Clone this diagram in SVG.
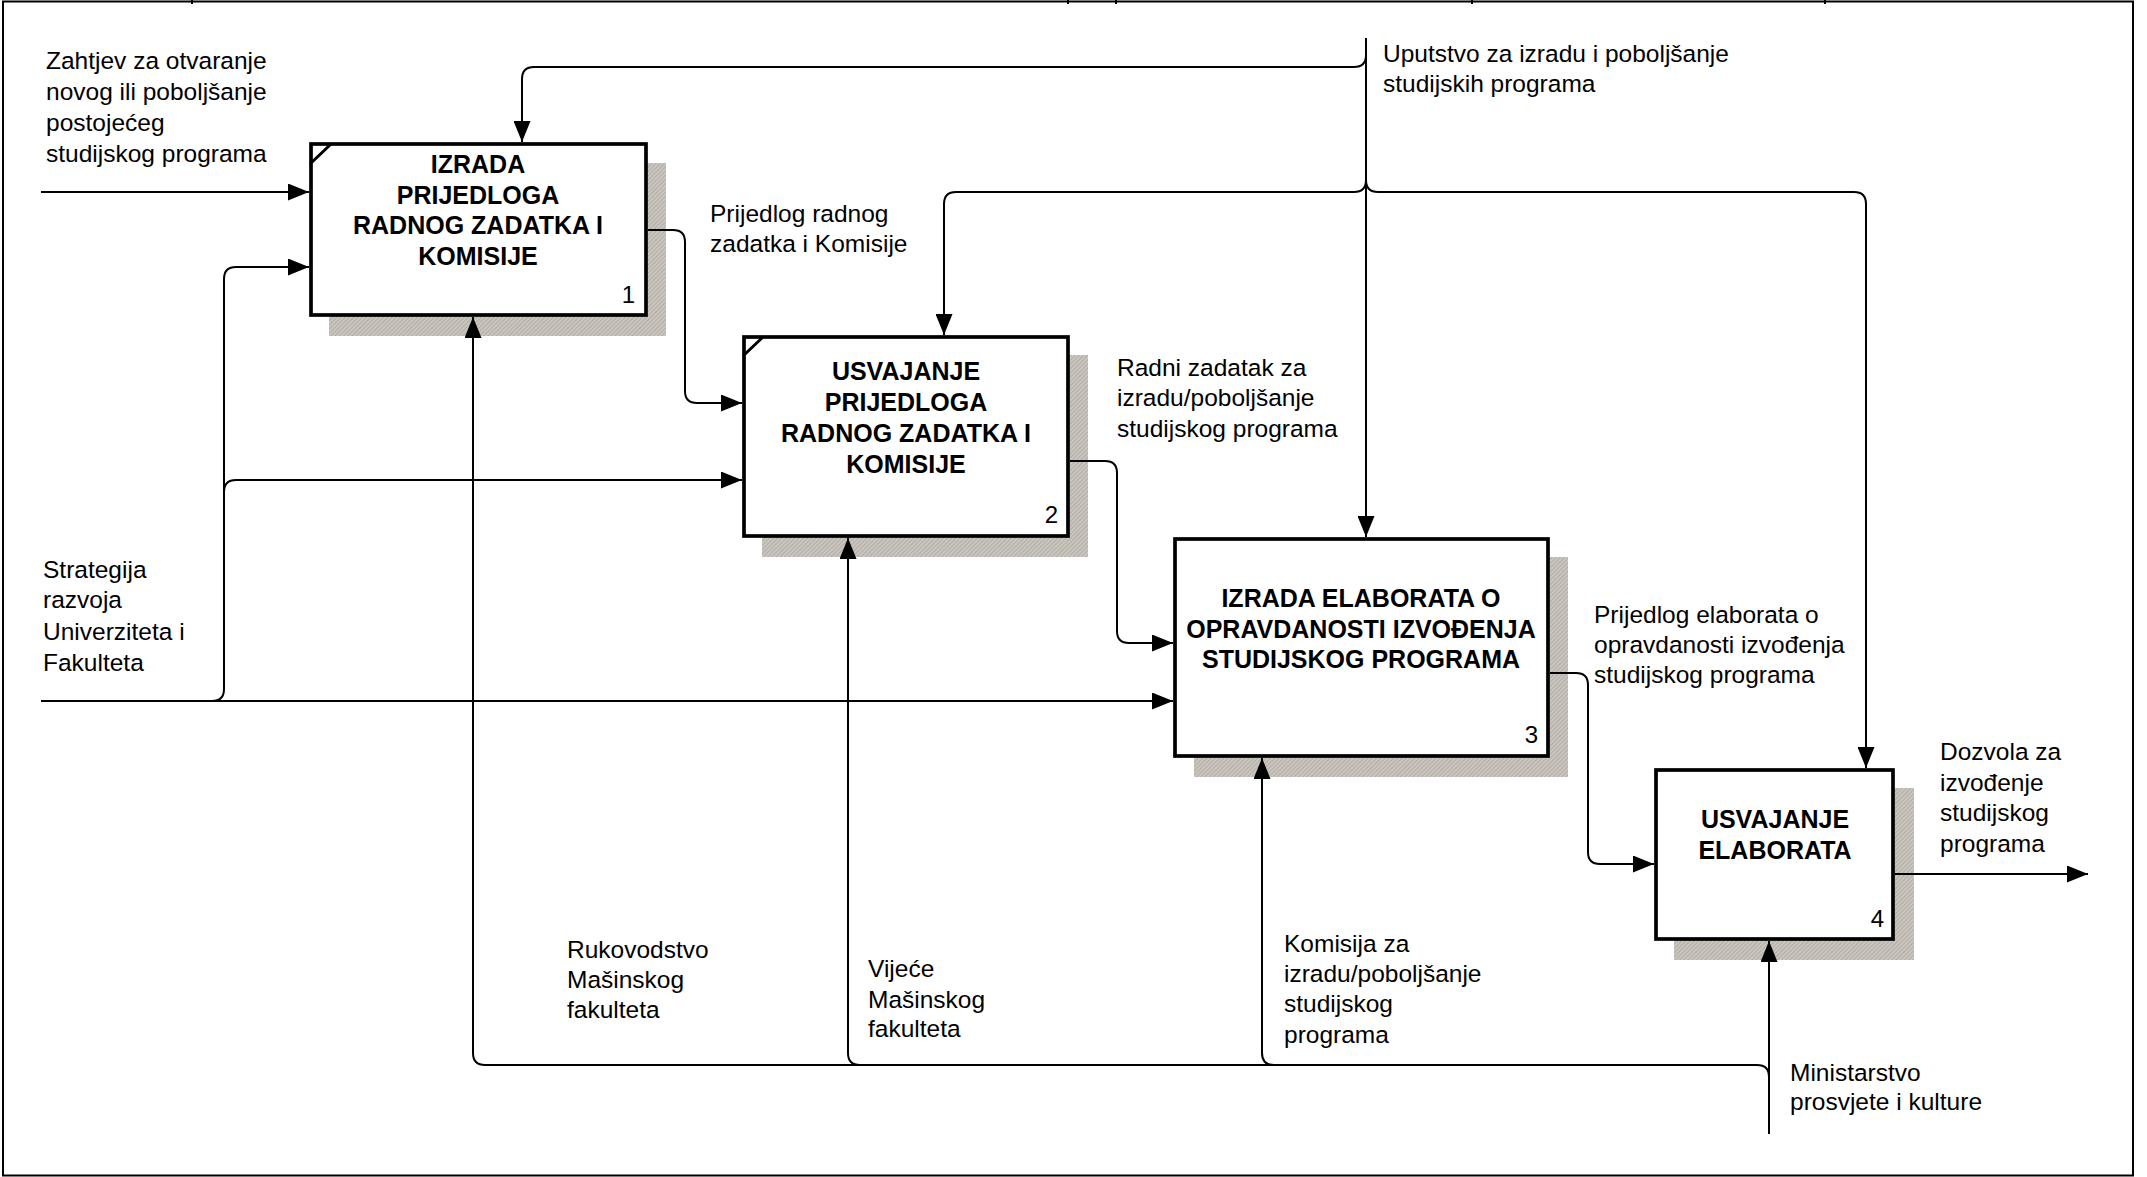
<svg xmlns="http://www.w3.org/2000/svg" width="2147" height="1177" viewBox="0 0 2147 1177">
<style>
.frame{fill:none;stroke:#000;stroke-width:2}
.box{fill:#fff;stroke:#000;stroke-width:3.7}
.shadow{fill:url(#hatch)}
.mark{stroke:#000;stroke-width:3;fill:none}
.title{font-family:"Liberation Sans",Arial,sans-serif;font-size:25px;font-weight:bold;text-anchor:middle;fill:#000}
.num{font-family:"Liberation Sans",Arial,sans-serif;font-size:24px;text-anchor:end;fill:#000}
.lbl{font-family:"Liberation Sans",Arial,sans-serif;font-size:24.5px;fill:#000}
.conn{fill:none;stroke:#000;stroke-width:2}
.arr{marker-end:url(#ah)}
</style>
<defs>
<marker id="ah" markerUnits="userSpaceOnUse" markerWidth="21" markerHeight="17" refX="21" refY="8.5" orient="auto">
<path d="M0,0 L21,8.5 L0,17 Z" fill="#000"/>
</marker>
<pattern id="hatch" width="3" height="3" patternUnits="userSpaceOnUse" patternTransform="rotate(45)">
<rect width="3" height="3" fill="#cac6bf"/>
<line x1="0.5" y1="0" x2="0.5" y2="3" stroke="#b2aea6" stroke-width="1"/>
</pattern>
</defs>
<rect width="2147" height="1177" fill="#fff"/>
<g id="frame">
<rect class="frame" x="3" y="1.5" width="2130" height="1174"/>
<path class="frame" d="M192,0V4 M1068,0V4 M1116,0V4 M1472,0V4 M1825,0V4"/>
</g>
<g id="node1">
<rect class="shadow" x="329" y="163" width="337" height="173"/>
<rect class="box" x="311" y="144" width="335" height="171"/>
<line class="mark" x1="310" y1="164" x2="331" y2="144"/>
<text class="title" x="478" y="173">IZRADA</text>
<text class="title" x="478" y="203.5">PRIJEDLOGA</text>
<text class="title" x="478" y="234">RADNOG ZADATKA I</text>
<text class="title" x="478" y="265">KOMISIJE</text>
<text class="num" x="635" y="303">1</text>
</g>
<g id="node2">
<rect class="shadow" x="762" y="355" width="326" height="202"/>
<rect class="box" x="744" y="337" width="324" height="199"/>
<line class="mark" x1="743" y1="356" x2="763" y2="337"/>
<text class="title" x="906" y="380">USVAJANJE</text>
<text class="title" x="906" y="411">PRIJEDLOGA</text>
<text class="title" x="906" y="442">RADNOG ZADATKA I</text>
<text class="title" x="906" y="473">KOMISIJE</text>
<text class="num" x="1058" y="523">2</text>
</g>
<g id="node3">
<rect class="shadow" x="1194" y="557" width="374" height="220"/>
<rect class="box" x="1175" y="539" width="373" height="217"/>
<text class="title" x="1361" y="607">IZRADA ELABORATA O</text>
<text class="title" x="1361" y="638">OPRAVDANOSTI IZVOĐENJA</text>
<text class="title" x="1361" y="668">STUDIJSKOG PROGRAMA</text>
<text class="num" x="1538" y="743">3</text>
</g>
<g id="node4">
<rect class="shadow" x="1674" y="788" width="240" height="172"/>
<rect class="box" x="1656" y="770" width="237" height="169"/>
<text class="title" x="1775" y="828">USVAJANJE</text>
<text class="title" x="1775" y="859">ELABORATA</text>
<text class="num" x="1884" y="927">4</text>
</g>
<g id="connectors">
<path class="conn arr" d="M41,192 H309"/>
<path class="conn arr" d="M41,701 H1173"/>
<path class="conn arr" d="M212,701 Q224,701 224,689 V279 Q224,267 236,267 H309"/>
<path class="conn arr" d="M224,492 Q224,480 236,480 H742"/>
<path class="conn arr" d="M648,230 H673 Q685,230 685,242 V391 Q685,403 697,403 H742"/>
<path class="conn arr" d="M1070,461 H1105 Q1117,461 1117,473 V631 Q1117,643 1129,643 H1173"/>
<path class="conn arr" d="M1550,673 H1576 Q1588,673 1588,685 V852 Q1588,864 1600,864 H1654"/>
<path class="conn arr" d="M1895,874 H2088"/>
<path class="conn arr" d="M1366,38 V537"/>
<path class="conn arr" d="M1366,55 Q1366,67 1354,67 H534 Q522,67 522,79 V142"/>
<path class="conn arr" d="M1366,180 Q1366,192 1354,192 H956 Q944,192 944,204 V335"/>
<path class="conn arr" d="M1366,180 Q1366,192 1378,192 H1854 Q1866,192 1866,204 V768"/>
<path class="conn arr" d="M1769,1134 V941"/>
<path class="conn" d="M485,1065 H1757 Q1769,1065 1769,1077"/>
<path class="conn arr" d="M485,1065 Q473,1065 473,1053 V317"/>
<path class="conn arr" d="M860,1065 Q848,1065 848,1053 V538"/>
<path class="conn arr" d="M1274,1065 Q1262,1065 1262,1053 V758"/>
</g>
<g id="labels">
<text class="lbl" x="46" y="69">Zahtjev za otvaranje</text>
<text class="lbl" x="46" y="100">novog ili poboljšanje</text>
<text class="lbl" x="46" y="131">postojećeg</text>
<text class="lbl" x="46" y="162">studijskog programa</text>
<text class="lbl" x="1383" y="62">Uputstvo za izradu i poboljšanje</text>
<text class="lbl" x="1383" y="92">studijskih programa</text>
<text class="lbl" x="710" y="222">Prijedlog radnog</text>
<text class="lbl" x="710" y="252">zadatka i Komisije</text>
<text class="lbl" x="1117" y="376">Radni zadatak za</text>
<text class="lbl" x="1117" y="406">izradu/poboljšanje</text>
<text class="lbl" x="1117" y="437">studijskog programa</text>
<text class="lbl" x="1594" y="623">Prijedlog elaborata o</text>
<text class="lbl" x="1594" y="653">opravdanosti izvođenja</text>
<text class="lbl" x="1594" y="683">studijskog programa</text>
<text class="lbl" x="1940" y="760">Dozvola za</text>
<text class="lbl" x="1940" y="791">izvođenje</text>
<text class="lbl" x="1940" y="821">studijskog</text>
<text class="lbl" x="1940" y="852">programa</text>
<text class="lbl" x="43" y="578">Strategija</text>
<text class="lbl" x="43" y="608">razvoja</text>
<text class="lbl" x="43" y="640">Univerziteta i</text>
<text class="lbl" x="43" y="671">Fakulteta</text>
<text class="lbl" x="567" y="958">Rukovodstvo</text>
<text class="lbl" x="567" y="988">Mašinskog</text>
<text class="lbl" x="567" y="1018">fakulteta</text>
<text class="lbl" x="868" y="977">Vijeće</text>
<text class="lbl" x="868" y="1008">Mašinskog</text>
<text class="lbl" x="868" y="1037">fakulteta</text>
<text class="lbl" x="1284" y="952">Komisija za</text>
<text class="lbl" x="1284" y="982">izradu/poboljšanje</text>
<text class="lbl" x="1284" y="1012">studijskog</text>
<text class="lbl" x="1284" y="1043">programa</text>
<text class="lbl" x="1790" y="1081">Ministarstvo</text>
<text class="lbl" x="1790" y="1110">prosvjete i kulture</text>
</g>
</svg>
